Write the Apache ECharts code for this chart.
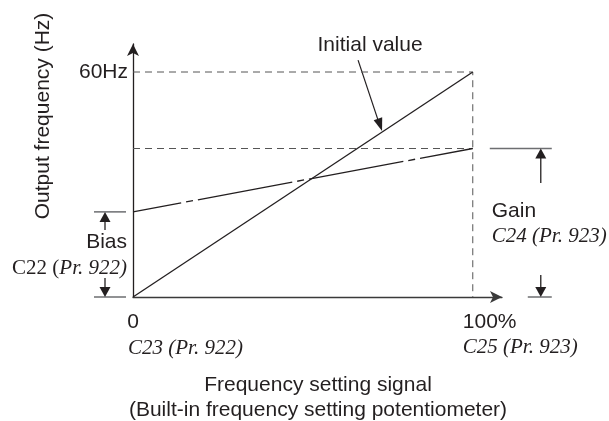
<!DOCTYPE html>
<html><head><meta charset="utf-8">
<script src="https://cdn.jsdelivr.net/npm/echarts@6/dist/echarts.min.js"></script>
<style>html,body{margin:0;padding:0;background:#fff}#c{width:609px;height:421px}</style>
</head><body><div id="c"></div>
<script>
// ---- data ----
const signalPct = [0, 100];            // frequency setting signal (%)
const initialHz = [0, 60];             // initial value line (Hz)
const biasGainHz = [22.7, 39.6];       // bias at 0 %, gain at 100 % (Hz)
const maxHz = 60;
const xTickLabels = ['0', '100%'];
const xParamLabels = ['C23 (Pr. 922)', 'C25 (Pr. 923)'];
const yTickLabel = '60Hz';

const INK = '#231f20';
const GREY = '#555555';
const SANS = '"Liberation Sans", Arial, Helvetica, sans-serif';
const SERIF = '"Liberation Serif", "Times New Roman", serif';

const chart = echarts.init(document.getElementById('c'), null, {renderer: 'canvas'});

const pts = (ys) => signalPct.map((x, i) => [x, ys[i]]);

chart.setOption({
  animation: false,
  backgroundColor: '#fff',
  grid: {left: 133, right: 107, top: 44, bottom: 124},
  xAxis: {
    type: 'value', min: 0, max: 108.6, interval: 100,
    axisLine: {show: true, symbol: ['none', 'arrow'], symbolSize: [9, 12],
      lineStyle: {color: '#3a3a3a', width: 1.3}},
    axisTick: {show: false}, splitLine: {show: false},
    axisLabel: {show: false}
  },
  yAxis: {
    type: 'value', min: 0, max: 67.47, interval: 60,
    axisLine: {show: true, symbol: ['none', 'arrow'], symbolSize: [9, 12],
      lineStyle: {color: INK, width: 1.3}},
    axisTick: {show: false}, splitLine: {show: false},
    axisLabel: {
      margin: 5, fontSize: 21, fontFamily: SANS, color: INK,
      formatter: v => (v === maxHz ? yTickLabel : '')
    }
  },
  series: [
    {type: 'line', name: 'guide60', z: 1, symbol: 'none', silent: true,
      data: [[signalPct[0], maxHz], [signalPct[1], maxHz], [signalPct[1], 0]],
      lineStyle: {color: GREY, width: 1, type: [7, 5]}},
    {type: 'line', name: 'guideGain', z: 1, symbol: 'none', silent: true,
      data: [[signalPct[0], biasGainHz[1]], [signalPct[1], biasGainHz[1]]],
      lineStyle: {color: GREY, width: 1, type: [7, 5]}},
    {type: 'line', name: 'Initial value', z: 3, symbol: 'none',
      data: pts(initialHz), lineStyle: {color: INK, width: 1.3}},
    {type: 'line', name: 'Bias/Gain', z: 3, symbol: 'none',
      data: pts(biasGainHz),
      lineStyle: {color: INK, width: 1.3, type: [96, 5, 7, 5], dashOffset: 47}}
  ]
});

// ---- annotations anchored through the chart's own scales ----
const P = (x, y) => chart.convertToPixel({gridIndex: 0}, [x, y]);
const o = P(0, 0);
const x100 = P(signalPct[1], 0)[0];
const yb = P(0, biasGainHz[0])[1];
const yg = P(0, biasGainHz[1])[1];

const g = [];
const line = (x1, y1, x2, y2, color, w) => g.push({type: 'line', silent: true,
  shape: {x1, y1, x2, y2}, style: {stroke: color || INK, lineWidth: w || 1.3}});
const tri = (tipX, tipY, dx, dy, len, half) => {
  // arrow head with tip at (tipX,tipY) pointing along (dx,dy)
  const L = Math.hypot(dx, dy); const ux = dx / L, uy = dy / L;
  const bx = tipX - ux * len, by = tipY - uy * len;
  g.push({type: 'polygon', silent: true, shape: {points: [[tipX, tipY],
    [bx - uy * half, by + ux * half], [bx + uy * half, by - ux * half]]}, style: {fill: INK}});
};
const text = (t, x, y, align, font, extra) => g.push({type: 'text', silent: true, x, y,
  style: Object.assign({text: t, font, fill: INK, align, verticalAlign: 'middle'}, extra || {})});

const fSans = '21px ' + SANS;
const fSerifI = 'italic 21px ' + SERIF;

// Bias marker
const bx = o[0] - 28;
line(o[0] - 39, yb, o[0] - 7, yb, '#6d6e71', 1.5);
line(o[0] - 39, o[1], o[0] - 7, o[1], '#6d6e71', 1.5);
tri(bx, yb, 0, -1, 10, 5.5); line(bx, yb + 9, bx, yb + 18);
tri(bx, o[1], 0, 1, 10, 5.5); line(bx, o[1] - 19, bx, o[1] - 9);
const bm = (yb + o[1]) / 2;
text('Bias', o[0] - 6, bm - 12.5, 'right', fSans);
g.push({type: 'text', silent: true, x: o[0] - 6, y: bm + 14.5, style: {
  text: '{u|C22 (}{i|Pr. 922)}', align: 'right', verticalAlign: 'middle', fill: INK,
  rich: {u: {font: '21px ' + SERIF, fill: INK}, i: {font: fSerifI, fill: INK}}}});

// Gain marker
const gx = x100 + 68;
line(x100 + 17, yg, x100 + 79, yg, '#6d6e71', 1.5);
line(x100 + 55, o[1], x100 + 79, o[1], '#6d6e71', 1.5);
tri(gx, yg, 0, -1, 10, 5.5); line(gx, yg + 9, gx, yg + 34.5);
tri(gx, o[1], 0, 1, 10, 5.5); line(gx, o[1] - 22, gx, o[1] - 9);
const gm = (yg + o[1]) / 2;
text('Gain', x100 + 19, gm - 12, 'left', fSans);
text('C24 (Pr. 923)', x100 + 19, gm + 14, 'left', fSerifI);

// x tick labels
text(xTickLabels[0], o[0], o[1] + 25, 'center', fSans);
text(xParamLabels[0], o[0] - 5, o[1] + 51, 'left', fSerifI);
text(xTickLabels[1], x100 - 10, o[1] + 25, 'left', fSans);
text(xParamLabels[1], x100 - 10, o[1] + 50, 'left', fSerifI);

// Initial value callout
const tip = P(73.3, initialHz[1] * 0.733);
const tail = [tip[0] - 24, tip[1] - 72];
line(tail[0], tail[1], tip[0] - 3, tip[1] - 9, INK, 1.2);
tri(tip[0], tip[1] - 1, tip[0] - tail[0], tip[1] - tail[1], 13, 4.5);
text('Initial value', tail[0] + 12, tail[1] - 15, 'center', fSans);

// axis titles
text('Frequency setting signal', 318, o[1] + 88, 'center', fSans);
text('(Built-in frequency setting potentiometer)', 318, o[1] + 113, 'center', fSans);
g.push({type: 'text', silent: true, x: 43, y: 116, rotation: Math.PI / 2,
  style: {text: 'Output frequency (Hz)', font: fSans, fill: INK, align: 'center', verticalAlign: 'middle'}});

chart.setOption({graphic: g});
</script></body></html>
